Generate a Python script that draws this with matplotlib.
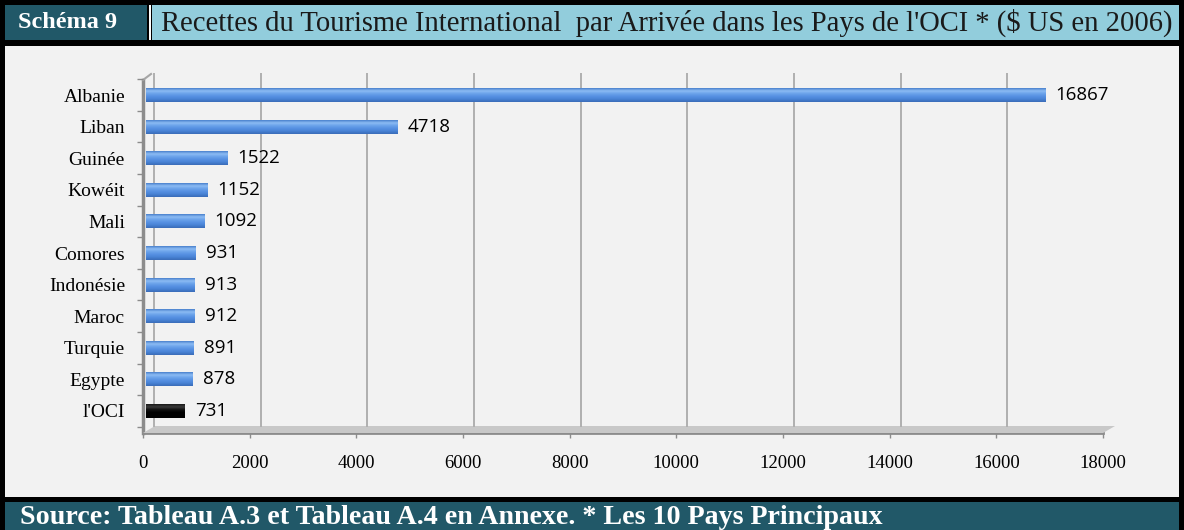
import matplotlib
matplotlib.use("Agg")
import matplotlib.pyplot as plt
import matplotlib.transforms as mtransforms
from matplotlib.patches import Rectangle, Polygon
from matplotlib.colors import LinearSegmentedColormap
import numpy as np

# data
countries = ["Albanie", "Liban", "Guinée", "Kowéit", "Mali", "Comores",
             "Indonésie", "Maroc", "Turquie", "Egypte", "l'OCI"]
receipts = [16867, 4718, 1522, 1152, 1092, 931, 913, 912, 891, 878, 731]
xticks = [0, 2000, 4000, 6000, 8000, 10000, 12000, 14000, 16000, 18000]

title_left = "Schéma 9"
title_right = "Recettes du Tourisme International  par Arrivée dans les Pays de l'OCI * ($ US en 2006)"
source = "Source: Tableau A.3 et Tableau A.4 en Annexe. * Les 10 Pays Principaux"

W, H = 1184, 530
fig = plt.figure(figsize=(W / 100, H / 100), dpi=100)
fig.patch.set_facecolor("black")

# pixel coords helper (origin top-left)
px = mtransforms.Affine2D().scale(1 / W, -1 / H).translate(0, 1) + fig.transFigure


def rect(x0, y0, x1, y1, color, z=-2):
    fig.patches.append(Rectangle((x0, y1), x1 - x0, y0 - y1, transform=px,
                                 facecolor=color, edgecolor="none", zorder=z))


# frames
rect(5, 46, 1179, 497, "#f2f2f2")
rect(5, 5, 147, 40, "#215868")
rect(149, 5, 151, 40, "white")
rect(152, 5, 1179, 40, "#92cddc")
rect(5, 502, 1179, 530, "#215868")

fig.text(18 / W, 1 - 23 / H, title_left, family="Liberation Serif", weight="bold",
         color="white", fontsize=17.5, va="center", ha="left")
fig.text(161 / W, 1 - 23 / H, title_right, family="Liberation Serif",
         color="#1a1a1a", fontsize=20.6, va="center", ha="left")
fig.text(20 / W, 1 - 517 / H, source, family="Liberation Serif", weight="bold",
         color="white", fontsize=20.2, va="center", ha="left")

# axes
ax = fig.add_axes([143 / W, 1 - 433 / H, (1103 - 143) / W, (433 - 73) / H])
ax.set_facecolor("none")
ax.set_zorder(1)
ypos = list(range(len(countries)))

dx, dy = 11, 6  # 3D depth offset
back = mtransforms.blended_transform_factory(
    mtransforms.offset_copy(ax.transData, fig, x=dx, y=0, units="dots"), ax.transAxes)
ax.vlines(xticks[:-1], dy / 360, 1, transform=back, color="#b0b0b0", lw=1.4, zorder=1)
ax.vlines([xticks[-1]], dy / 360, 1, transform=back, color="#a0a0a0", lw=3, zorder=1)

# floor and left wall
fig.patches.append(Polygon([(143, 433), (1103, 433), (1115, 426), (155, 426)],
                           closed=True, transform=px, facecolor="#c8c8c8",
                           edgecolor="none", zorder=-1))
fig.lines.append(plt.Line2D([143, 1103], [433, 433], transform=px, color="#8c8c8c",
                            lw=2, zorder=-1))
fig.lines.append(plt.Line2D([143, 143], [80, 433], transform=px, color="#8c8c8c",
                            lw=2.5, zorder=-1))
fig.lines.append(plt.Line2D([143, 151], [80, 74], transform=px, color="#a6a6a6",
                            lw=1.5, zorder=-1))

# bars with a vertical gradient (top row of the image = top of the bar)
blue = LinearSegmentedColormap.from_list(
    "blue", ["#4a80cc", "#8cbcf4", "#6aa2ea", "#5690e2", "#4882d4", "#3a6cb8"])
dark = LinearSegmentedColormap.from_list(
    "dark", ["#1a1a1a", "#3a3a3a", "#111111", "#000000", "#000000", "#000000"])
grad = np.linspace(0, 1, 64).reshape(-1, 1)

bars = ax.barh(ypos, receipts, height=0.44, left=60, color="none", zorder=3)
for i, b in enumerate(bars):
    x0, y0 = b.get_x(), b.get_y()
    cmap = dark if countries[i] == "l'OCI" else blue
    im = ax.imshow(grad, cmap=cmap, aspect="auto", zorder=3, origin="upper",
                   extent=(x0, x0 + b.get_width(), y0 + b.get_height(), y0))
    im.set_clip_path(b)
ax.set_xlim(0, 18000)
ax.set_ylim(10.7, -0.7)
ax.set_aspect("auto")

for y, v in zip(ypos, receipts):
    ax.annotate(str(v), (v + 60, y), xytext=(10, 0), textcoords="offset pixels",
                family="Open Sans", fontsize=13.5, va="center", ha="left",
                color="black", zorder=6)

ax.set_yticks(ypos)
ax.set_yticklabels(countries, family="Liberation Serif", fontsize=14)
ax.set_yticks([y + 0.5 for y in [-1] + ypos], minor=True)
ax.tick_params(axis="y", which="major", length=0, pad=13)
ax.tick_params(axis="y", which="minor", length=4, color="#8c8c8c", width=1)
ax.set_xticks(xticks)
ax.set_xticklabels([str(t) for t in xticks], family="Liberation Serif", fontsize=13.5)
ax.tick_params(axis="x", length=3.5, color="#8c8c8c", width=1, pad=12)
for s in ax.spines.values():
    s.set_visible(False)

fig.savefig("out.png", dpi=100, facecolor=fig.get_facecolor())
